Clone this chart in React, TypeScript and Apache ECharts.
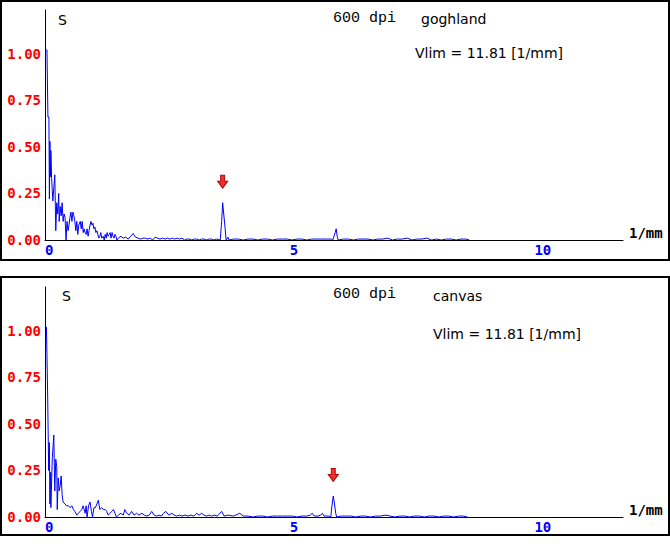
import React, { useEffect, useRef } from 'react';
import * as echarts from 'echarts';

// ---------- data (x in 1/mm, y = normalized spectrum S) ----------
const xMax = 11.81;
const yMax = 1.235;
const xTickStep = 5;
const yTickStep = 0.25;

const topSpectrum: [number, number][] = [
  [0.0, 1.02], [0.04, 1.02], [0.06, 0.66], [0.08, 0.66], [0.09, 0.22], [0.1, 0.53], [0.115, 0.34],
  [0.12, 0.48], [0.135, 0.33], [0.15, 0.26], [0.16, 0.21], [0.18, 0.28], [0.2, 0.35], [0.22, 0.05],
  [0.24, 0.2], [0.26, 0.14], [0.28, 0.25], [0.29, 0.1], [0.31, 0.18], [0.33, 0.13], [0.35, 0.2],
  [0.37, 0.1], [0.39, 0.14], [0.41, 0.12], [0.43, 0.0], [0.45, 0.1], [0.47, 0.05], [0.49, 0.08],
  [0.51, 0.12], [0.53, 0.15], [0.55, 0.1], [0.57, 0.15], [0.59, 0.13], [0.61, 0.1], [0.63, 0.05],
  [0.65, 0.1], [0.67, 0.03], [0.69, 0.08], [0.72, 0.1], [0.74, 0.06], [0.76, 0.1], [0.78, 0.04],
  [0.8, 0.06], [0.82, 0.04], [0.84, 0.03], [0.86, 0.06], [0.88, 0.02], [0.9, 0.05], [0.92, 0.08],
  [0.94, 0.1], [0.96, 0.08], [0.98, 0.09], [1.0, 0.06], [1.02, 0.07], [1.04, 0.04], [1.06, 0.05],
  [1.08, 0.03], [1.1, 0.01], [1.12, 0.02], [1.14, 0.04], [1.16, 0.01], [1.19, 0.02], [1.21, 0.0],
  [1.23, 0.03], [1.25, 0.01], [1.27, 0.04], [1.29, 0.02], [1.31, 0.03], [1.33, 0.04], [1.35, 0.01],
  [1.37, 0.04], [1.39, 0.02], [1.41, 0.01], [1.43, 0.03], [1.45, 0.02], [1.47, 0.0], [1.5, 0.01],
  [1.55, 0.02], [1.6, 0.01], [1.65, 0.015], [1.7, 0.005], [1.75, 0.02], [1.8, 0.035], [1.85, 0.015],
  [1.9, 0.01], [1.95, 0.005], [2.0, 0.01], [2.05, 0.01], [2.1, 0.005], [2.15, 0.01], [2.2, 0.0],
  [2.25, 0.015], [2.3, 0.01], [2.35, 0.005], [2.4, 0.01], [2.45, 0.005], [2.5, 0.01], [2.55, 0.005],
  [2.6, 0.01], [2.65, 0.005], [2.7, 0.01], [2.75, 0.005], [2.8, 0.01], [2.85, 0.0], [2.9, 0.005],
  [2.95, 0.005], [3.0, 0.0], [3.05, 0.005], [3.1, 0.005], [3.15, 0.0], [3.2, 0.005], [3.25, 0.005],
  [3.3, 0.0], [3.35, 0.005], [3.4, 0.005], [3.45, 0.0], [3.5, 0.005], [3.58, 0.0], [3.61, 0.1],
  [3.63, 0.2], [3.65, 0.145], [3.68, 0.065], [3.7, 0.0], [3.74, 0.015], [3.76, 0.0], [3.85, 0.005],
  [3.95, 0.005], [4.05, 0.0], [4.15, 0.005], [4.25, 0.005], [4.35, 0.0], [4.45, 0.005], [4.55, 0.005],
  [4.65, 0.0], [4.75, 0.005], [4.85, 0.005], [4.95, 0.005], [5.05, 0.0], [5.15, 0.005], [5.25, 0.005],
  [5.35, 0.0], [5.45, 0.005], [5.55, 0.005], [5.65, 0.005], [5.75, 0.005], [5.85, 0.005], [5.88, 0.0],
  [5.93, 0.04], [5.95, 0.06], [5.97, 0.02], [5.99, 0.0], [6.1, 0.005], [6.2, 0.005], [6.3, 0.0],
  [6.4, 0.005], [6.5, 0.005], [6.6, 0.005], [6.7, 0.0], [6.8, 0.005], [6.9, 0.005], [7.0, 0.01],
  [7.1, 0.0], [7.2, 0.005], [7.3, 0.005], [7.4, 0.01], [7.5, 0.0], [7.6, 0.005], [7.7, 0.005],
  [7.8, 0.01], [7.9, 0.0], [8.0, 0.005], [8.1, 0.0], [8.2, 0.005], [8.3, 0.005], [8.4, 0.0],
  [8.5, 0.005], [8.6, 0.005], [8.67, 0.0],
];

const bottomSpectrum: [number, number][] = [
  [0.0, 1.02], [0.03, 1.02], [0.055, 0.64], [0.075, 0.25], [0.09, 0.4], [0.1, 0.07], [0.115, 0.24],
  [0.12, 0.05], [0.15, 0.32], [0.17, 0.4], [0.18, 0.44], [0.2, 0.14], [0.22, 0.31], [0.24, 0.27],
  [0.25, 0.04], [0.27, 0.21], [0.29, 0.14], [0.31, 0.17], [0.33, 0.22], [0.35, 0.12], [0.37, 0.08],
  [0.41, 0.07], [0.44, 0.06], [0.48, 0.06], [0.51, 0.05], [0.55, 0.06], [0.58, 0.04], [0.61, 0.03],
  [0.65, 0.01], [0.68, 0.02], [0.72, 0.03], [0.75, 0.04], [0.78, 0.06], [0.82, 0.02], [0.84, 0.06],
  [0.86, 0.0], [0.89, 0.06], [0.92, 0.08], [0.95, 0.03], [0.97, 0.0], [1.0, 0.05], [1.03, 0.05],
  [1.06, 0.07], [1.09, 0.09], [1.12, 0.04], [1.16, 0.05], [1.19, 0.04], [1.23, 0.04], [1.26, 0.03],
  [1.29, 0.01], [1.33, 0.02], [1.36, 0.03], [1.4, 0.04], [1.43, 0.02], [1.46, 0.0], [1.5, 0.01],
  [1.55, 0.02], [1.6, 0.01], [1.63, 0.04], [1.67, 0.02], [1.72, 0.01], [1.77, 0.03], [1.82, 0.01],
  [1.87, 0.02], [1.92, 0.01], [1.98, 0.02], [2.03, 0.01], [2.08, 0.005], [2.13, 0.01], [2.18, 0.03],
  [2.23, 0.01], [2.28, 0.005], [2.33, 0.01], [2.38, 0.005], [2.42, 0.02], [2.47, 0.03], [2.53, 0.01],
  [2.59, 0.02], [2.64, 0.01], [2.69, 0.005], [2.75, 0.01], [2.8, 0.005], [2.86, 0.01], [2.92, 0.005],
  [2.98, 0.01], [3.04, 0.005], [3.1, 0.02], [3.15, 0.01], [3.2, 0.02], [3.25, 0.01], [3.3, 0.005],
  [3.35, 0.01], [3.4, 0.005], [3.46, 0.01], [3.52, 0.005], [3.61, 0.03], [3.66, 0.005], [3.75, 0.01],
  [3.85, 0.005], [3.98, 0.02], [4.05, 0.005], [4.15, 0.005], [4.25, 0.0], [4.35, 0.005], [4.45, 0.005],
  [4.55, 0.0], [4.65, 0.005], [4.75, 0.005], [4.85, 0.005], [4.95, 0.005], [5.05, 0.005], [5.15, 0.0],
  [5.25, 0.005], [5.35, 0.005], [5.42, 0.01], [5.46, 0.02], [5.5, 0.005], [5.58, 0.005], [5.63, 0.01],
  [5.67, 0.02], [5.7, 0.005], [5.8, 0.005], [5.84, 0.0], [5.86, 0.055], [5.89, 0.113], [5.91, 0.08],
  [5.94, 0.02], [5.96, 0.0], [6.05, 0.005], [6.15, 0.005], [6.25, 0.005], [6.35, 0.0], [6.45, 0.005],
  [6.55, 0.005], [6.65, 0.0], [6.75, 0.005], [6.85, 0.005], [6.97, 0.01], [7.05, 0.005], [7.15, 0.0],
  [7.25, 0.005], [7.35, 0.005], [7.45, 0.0], [7.55, 0.005], [7.65, 0.005], [7.75, 0.0], [7.85, 0.005],
  [7.95, 0.005], [8.05, 0.0], [8.15, 0.005], [8.25, 0.005], [8.35, 0.0], [8.45, 0.005], [8.55, 0.005],
  [8.63, 0.0],
];

const arrowTop: [number, number] = [3.63, 0.2];
const arrowBottom: [number, number] = [5.89, 0.113];

const resolutionLabel = '600 dpi';
const topName = 'goghland';
const bottomName = 'canvas';
const vlimLabel = 'Vlim = 11.81 [1/mm]';
const yAxisTitle = 'S';
const xUnit = '1/mm';

// ---------- styles ----------
const mono = '"DejaVu Sans Mono", monospace';
const sans = '"DejaVu Sans", sans-serif';
const ARROW = 'path://M3,0 L7,0 L7,6 L10,6 L5,13 L0,6 L3,6 Z';

function makeAxes(gridIndex: number) {
  const xAxis = {
    type: 'value',
    gridIndex,
    min: 0,
    max: xMax,
    interval: xTickStep,
    axisLine: { show: true, onZero: false, lineStyle: { color: '#000', width: 1 } },
    axisTick: { show: false },
    splitLine: { show: false },
    axisLabel: {
      color: '#0000ff',
      fontFamily: mono,
      fontWeight: 'bold',
      fontSize: 14,
      margin: 3,
      align: 'left',
      showMaxLabel: false,
      formatter: (v: number) => (Math.abs(v % xTickStep) < 1e-9 ? String(v) : ''),
    },
  };
  const yAxis = {
    type: 'value',
    gridIndex,
    min: 0,
    max: yMax,
    interval: yTickStep,
    axisLine: { show: true, lineStyle: { color: '#000', width: 1 } },
    axisTick: { show: false },
    splitLine: { show: false },
    axisLabel: {
      color: '#ff0000',
      fontFamily: mono,
      fontWeight: 'bold',
      fontSize: 14,
      margin: 4,
      showMaxLabel: false,
      formatter: (v: number) => (Math.abs(v / yTickStep - Math.round(v / yTickStep)) < 1e-6 ? v.toFixed(2) : ''),
    },
  };
  return { xAxis, yAxis };
}

function makeSeries(idx: number, data: [number, number][], arrow: [number, number]) {
  return {
    type: 'line',
    xAxisIndex: idx,
    yAxisIndex: idx,
    data,
    showSymbol: false,
    symbol: 'none',
    lineStyle: { color: '#0000ff', width: 1 },
    silent: true,
    markPoint: {
      silent: true,
      symbol: ARROW,
      symbolSize: [10, 13],
      symbolOffset: [0, -21],
      itemStyle: { color: '#f03030', borderColor: '#b00000', borderWidth: 1 },
      label: { show: false },
      data: [{ coord: arrow }],
    },
  };
}

function txt(x: number, y: number, text: string, font: string, size: number, weight = 'normal') {
  return {
    type: 'text',
    x,
    y,
    silent: true,
    style: {
      text,
      fill: '#000',
      fontFamily: font,
      fontSize: size,
      fontWeight: weight,
      textAlign: 'left',
      textVerticalAlign: 'middle',
    },
  };
}

export default function App() {
  const ref = useRef<HTMLDivElement>(null);
  useEffect(() => {
    document.body.style.margin = '0';
    const chart = echarts.init(ref.current!, null, { renderer: 'svg' });
    const a0 = makeAxes(0);
    const a1 = makeAxes(1);
    chart.setOption({
      animation: false,
      backgroundColor: '#fff',
      grid: [
        { left: 45, right: 47, top: 10, height: 230 },
        { left: 45, right: 47, top: 287, height: 230 },
      ],
      xAxis: [a0.xAxis, a1.xAxis],
      yAxis: [a0.yAxis, a1.yAxis],
      series: [makeSeries(0, topSpectrum, arrowTop), makeSeries(1, bottomSpectrum, arrowBottom)],
      graphic: [
        { type: 'rect', silent: true, shape: { x: 1, y: 1, width: 668, height: 259 }, style: { fill: 'none', stroke: '#000', lineWidth: 2 } },
        { type: 'rect', silent: true, shape: { x: 1, y: 277, width: 668, height: 258 }, style: { fill: 'none', stroke: '#000', lineWidth: 2 } },
        txt(58, 20, yAxisTitle, sans, 14),
        txt(333, 18, resolutionLabel, '"Liberation Mono", monospace', 15),
        txt(421, 19, topName, sans, 14),
        txt(415, 53, vlimLabel, sans, 14),
        txt(629, 233, xUnit, mono, 14, 'bold'),
        txt(62, 296, yAxisTitle, sans, 14),
        txt(333, 294, resolutionLabel, '"Liberation Mono", monospace', 15),
        txt(433, 296, bottomName, sans, 14),
        txt(433, 334, vlimLabel, sans, 14),
        txt(629, 510, xUnit, mono, 14, 'bold'),
      ],
    });
    return () => chart.dispose();
  }, []);
  return <div ref={ref} style={{ width: 670, height: 546 }} />;
}
